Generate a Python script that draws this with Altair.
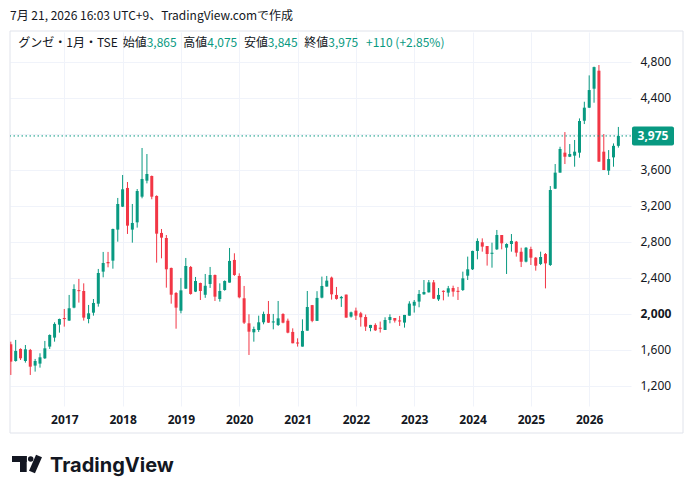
import altair as alt
import pandas as pd

# ---- data (monthly OHLC, Gunze / TSE, Feb 2016 .. Jul 2026) ----
first_month = "2016-02"
opens = [1660, 1474, 1608, 1474, 1597, 1423, 1445, 1504, 1634, 1734, 1878,
         1952, 1923, 2067, 2262, 2252, 1941, 2011, 2111, 2467, 2574, 2589, 2934,
         3189, 3397, 2934, 3015, 3300, 3478, 3530, 3308, 2897, 2841, 2508, 2230,
         2033, 2278, 2519, 2245, 2341, 2210, 2330, 2430, 2163, 2263, 2345, 2597,
         2419, 2171, 1893, 1793, 1819, 1904, 1997, 1902, 1874, 1997, 1922, 1797,
         1680, 1634, 1811, 2095, 1920, 2178, 2301, 2401, 2208, 2171, 2212, 1967,
         2034, 2004, 1963, 1841, 1875, 1844, 1819, 1930, 1952, 1925, 1901, 1978,
         2089, 2134, 2215, 2237, 2348, 2159, 2254, 2234, 2285, 2254, 2263, 2422,
         2493, 2697, 2793, 2752, 2665, 2715, 2874, 2734, 2774, 2800, 2689, 2578,
         2718, 2622, 2552, 2663, 2541, 3389, 3567, 3789, 3744, 3756, 3789, 4144,
         4289, 4500, 4700, 3800, 3589, 3737, 3865]
highs = [1689, 1708, 1615, 1652, 1608, 1497, 1560, 1697, 1770, 1904, 1945,
         2052, 2208, 2326, 2386, 2337, 2097, 2163, 2497, 2686, 2686, 2945, 3286,
         3541, 3463, 3219, 3385, 3841, 3774, 3535, 3315, 2941, 2874, 2512, 2240,
         2397, 2619, 2530, 2408, 2345, 2441, 2519, 2435, 2337, 2370, 2730, 2671,
         2448, 2308, 1993, 1856, 1978, 2023, 2141, 1997, 2141, 2004, 1945, 1837,
         1726, 1937, 2252, 2097, 2250, 2412, 2419, 2412, 2297, 2197, 2212, 2023,
         2067, 2020, 1990, 1875, 1893, 1912, 1960, 1993, 1952, 1975, 1986, 2138,
         2152, 2263, 2374, 2374, 2374, 2285, 2259, 2308, 2311, 2297, 2467, 2634,
         2700, 2837, 2837, 2752, 2789, 2930, 2874, 2782, 2885, 2808, 2733, 2740,
         2744, 2630, 2689, 2674, 3418, 3663, 3855, 4018, 3885, 3930, 4170, 4355,
         4648, 4745, 4763, 3996, 3818, 3892, 4075]
lows = [1319, 1467, 1485, 1456, 1319, 1356, 1400, 1497, 1608, 1689, 1789,
        1856, 1920, 2060, 2123, 1923, 1893, 1978, 2078, 2404, 2515, 2500, 2800,
        3185, 2886, 2789, 2956, 3282, 3448, 3271, 2567, 2615, 2289, 2111, 1833,
        2004, 2275, 2211, 2240, 2152, 2176, 2286, 2141, 2134, 2255, 2345, 2420,
        2171, 1885, 1541, 1689, 1797, 1882, 1897, 1826, 1863, 1893, 1782, 1671,
        1634, 1634, 1811, 1905, 1920, 2170, 2301, 2156, 2156, 2075, 1956, 1956,
        1930, 1856, 1808, 1804, 1808, 1790, 1819, 1893, 1901, 1864, 1845, 1978,
        2012, 2071, 2210, 2235, 2163, 2141, 2148, 2189, 2189, 2152, 2252, 2374,
        2485, 2604, 2689, 2534, 2511, 2708, 2715, 2441, 2689, 2634, 2518, 2570,
        2541, 2478, 2540, 2281, 2530, 3385, 3567, 3663, 3740, 3633, 3733, 4107,
        4285, 4344, 3689, 3596, 3541, 3633, 3845]
closes = [1467, 1586, 1504, 1604, 1411, 1474, 1515, 1615, 1763, 1886, 1941,
          1940, 2060, 2274, 2250, 1956, 2004, 2119, 2452, 2563, 2560, 2941, 3219,
          3382, 2978, 3008, 3363, 3497, 3552, 3300, 2889, 2845, 2493, 2211, 2067,
          2259, 2530, 2219, 2363, 2252, 2310, 2430, 2189, 2252, 2363, 2586, 2430,
          2182, 1900, 1800, 1830, 1904, 1997, 1900, 1914, 1948, 1900, 1789, 1671,
          1668, 1808, 2074, 1920, 2175, 2308, 2367, 2215, 2164, 2186, 1956, 2015,
          1978, 1960, 1856, 1875, 1815, 1832, 1930, 1963, 1923, 1913, 1986, 2112,
          2132, 2219, 2241, 2348, 2167, 2208, 2242, 2282, 2245, 2242, 2393, 2493,
          2697, 2808, 2745, 2663, 2677, 2874, 2782, 2774, 2808, 2678, 2578, 2733,
          2622, 2533, 2630, 2559, 3374, 3567, 3830, 3744, 3774, 3800, 4141, 4289,
          4485, 4740, 3689, 3596, 3718, 3865, 3975]

year_ticks = [12, 24, 36, 48, 60, 72, 84, 96, 108, 120]
price_ticks = [1200, 1600, 2000, 2400, 2800, 3200, 3600, 4000, 4400, 4800]

GREEN = "#089981"
RED = "#F23645"
GRID = "#f0f3fa"
TEXT = "#131722"

periods = pd.period_range(first_month, periods=len(opens), freq="M")
df = pd.DataFrame({
    "m": [(p.year - 2016) * 12 + (p.month - 1) for p in periods],
    "month": periods.astype(str),
    "open": opens, "high": highs, "low": lows, "close": closes,
})
df["dir"] = ["up" if c >= o else "down" for o, c in zip(opens, closes)]

W, H = 621, 374
xs = alt.Scale(domain=[0.83, 128.6], nice=False, zero=False, padding=0)
ys = alt.Scale(domain=[974, 5130], nice=False, zero=False, padding=0)
color = alt.Color("dir:N", scale=alt.Scale(domain=["up", "down"], range=[GREEN, RED]), legend=None)

xaxis = alt.Axis(values=year_ticks, labelExpr="'' + (2016 + datum.value / 12)", title=None,
                 grid=True, gridColor=GRID, domain=False, ticks=False, tickSize=0,
                 labelFont="Noto Sans", labelFontSize=12, labelFontWeight="bold",
                 labelColor=TEXT, labelPadding=13, labelBaseline="middle")
yaxis = alt.Axis(orient="right", values=price_ticks, format=",.0f", title=None,
                 labelExpr="datum.value == 4000 ? '' : datum.label",
                 grid=True, gridColor=GRID, domain=False, ticks=False, tickSize=0,
                 labelFont="Noto Sans", labelFontSize=12, labelColor=TEXT,
                 labelAlign="left", labelPadding=9, labelBaseline="middle",
                 labelFontWeight={"expr": "datum.value == 2000 ? 'bold' : 'normal'"})

base = alt.Chart(df)
wicks = base.mark_rule(strokeWidth=1, clip=True).encode(
    x=alt.X("m:Q", scale=xs, axis=xaxis),
    y=alt.Y("low:Q", scale=ys, axis=yaxis),
    y2="high:Q",
    color=color,
)
bodies = base.mark_bar(size=3, clip=True).encode(
    x="m:Q", y="open:Q", y2="close:Q", color=color,
)

one = alt.Data(values=[{"k": 1}])
last_close = closes[-1]
prev_close = closes[-2]
chg = last_close - prev_close
pct = chg / prev_close * 100

frame = alt.Chart(one).mark_rect(fill=None, stroke="#e0e3eb", strokeWidth=1).encode(
    x=alt.value(0), x2=alt.value(673), y=alt.value(-1), y2=alt.value(401))

price_line = alt.Chart(one).mark_rule(color=GREEN, strokeDash=[1.5, 2.5], strokeWidth=1).encode(
    y=alt.datum(last_close))

price_box = alt.Chart(one).mark_rect(fill=GREEN, cornerRadius=2).encode(
    x=alt.value(622), x2=alt.value(664), y=alt.value(94.5), y2=alt.value(113.5))
price_txt = alt.Chart(one).mark_text(color="white", font="Noto Sans", fontSize=12,
                                     fontWeight="bold", align="center", baseline="middle").encode(
    x=alt.value(643), y=alt.datum(last_close), text=alt.value(f"{last_close:,}"))

def txt(s, x, y, col=TEXT, size=12, weight="normal", font="Noto Sans CJK JP", baseline="middle"):
    return alt.Chart(one).mark_text(text=s, color=col, fontSize=size, fontWeight=weight, font=font,
                                    align="left", baseline=baseline).encode(
        x=alt.value(x), y=alt.value(y))

LY = 10.7
legend_layers = [
    txt("グンゼ・1月・TSE", 8.3, LY),
    txt("始値", 112.7, LY), txt(f"{opens[-1]:,}", 136.7, LY, GREEN),
    txt("高値", 173.3, LY), txt(f"{highs[-1]:,}", 197.3, LY, GREEN),
    txt("安値", 234, LY), txt(f"{lows[-1]:,}", 257.7, LY, GREEN),
    txt("終値", 294.3, LY), txt(f"{last_close:,}", 318.3, LY, GREEN),
    txt(f"{chg:+,} ({pct:+.2f}%)", 356, LY, GREEN),
]

header = txt("7月 21, 2026 16:03 UTC+9、TradingView.comで作成", 0, -16, size=12)

# TradingView logo (decoration)
logo_t1 = alt.Chart(one).mark_rect(fill="#131722").encode(
    x=alt.value(2), x2=alt.value(16.7), y=alt.value(424), y2=alt.value(430))
logo_t2 = alt.Chart(one).mark_rect(fill="#131722").encode(
    x=alt.value(10), x2=alt.value(16.7), y=alt.value(424), y2=alt.value(440))
logo_dot = alt.Chart(one).mark_point(filled=True, color="#131722", size=30, opacity=1).encode(
    x=alt.value(20.7), y=alt.value(427))
logo_slash = alt.Chart(one).mark_rule(color="#131722", strokeWidth=6.5, strokeCap="butt").encode(
    x=alt.value(29), x2=alt.value(22), y=alt.value(424), y2=alt.value(440))
logo_text = txt("TradingView", 40, 439.7, col="#131722", size=20, weight="bold",
                font="Inter", baseline="alphabetic")

chart = alt.layer(
    frame, wicks, bodies, price_line, price_box, price_txt, header, *legend_layers,
    logo_t1, logo_t2, logo_dot, logo_slash, logo_text,
).properties(
    width=W, height=H,
    autosize=alt.AutoSizeParams(type="none"),
    padding={"left": 2, "top": 24, "right": 54, "bottom": 80},
    background="white",
).configure_view(strokeWidth=0)

chart.save("out.html", embed_options={"renderer": "svg", "actions": False})
